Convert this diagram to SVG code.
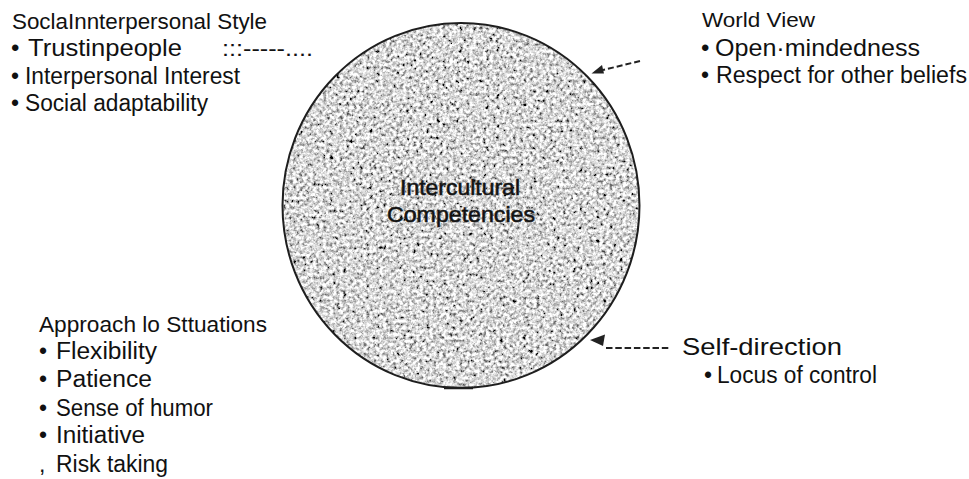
<svg xmlns="http://www.w3.org/2000/svg" width="969" height="479" viewBox="0 0 969 479">
  <style>
    .t { font-family: "Liberation Sans", Arial, sans-serif; fill: #111; }
    .dash { stroke: #222; stroke-width: 2; fill: none; }
    .head { fill: #222; stroke: none; }
  </style>
  <defs>
    <filter id="grain" x="0" y="0" width="100%" height="100%">
      <feTurbulence type="fractalNoise" baseFrequency="0.3" numOctaves="3" seed="7" result="n"/>
      <feColorMatrix in="n" type="matrix" values="0.33 0.33 0.33 0 0  0.33 0.33 0.33 0 0  0.33 0.33 0.33 0 0  0 0 0 0 1" result="g"/>
      <feComponentTransfer in="g" result="c">
        <feFuncR type="linear" slope="3.8" intercept="-1.2"/>
        <feFuncG type="linear" slope="3.8" intercept="-1.2"/>
        <feFuncB type="linear" slope="3.8" intercept="-1.2"/>
      </feComponentTransfer>
      <feComposite in="c" in2="SourceGraphic" operator="in"/>
    </filter>
  </defs>
  <rect width="969" height="479" fill="#ffffff"/>

  <g id="core">
    <ellipse cx="461" cy="205.5" rx="178.5" ry="182.5" fill="#aaaaaa" filter="url(#grain)"/>
    <ellipse cx="461" cy="205.5" rx="178.5" ry="182.5" fill="none" stroke="#1e1e1e" stroke-width="2"/>
    <line x1="444" y1="388" x2="473" y2="388" stroke="#1e1e1e" stroke-width="2.5"/>
    <text class="t" x="400" y="195" font-size="22" textLength="120" lengthAdjust="spacingAndGlyphs" fill="#1a1a1a" stroke="#1a1a1a" stroke-width="0.6">Intercultural</text>
    <text class="t" x="387" y="222" font-size="22" textLength="148" lengthAdjust="spacingAndGlyphs" fill="#1a1a1a" stroke="#1a1a1a" stroke-width="0.6">Competencies</text>
  </g>

  <g id="social-style">
    <text class="t" x="12" y="29" font-size="22" textLength="255" lengthAdjust="spacingAndGlyphs">SoclaInnterpersonal Style</text>
    <text class="t" y="56" font-size="24"><tspan x="11">•</tspan><tspan x="28" textLength="154" lengthAdjust="spacingAndGlyphs">Trustinpeople</tspan><tspan x="222" font-size="22" textLength="91" lengthAdjust="spacingAndGlyphs">:::-----....</tspan></text>
    <text class="t" y="84" font-size="23"><tspan x="11">•</tspan><tspan x="25" textLength="215" lengthAdjust="spacingAndGlyphs">Interpersonal Interest</tspan></text>
    <text class="t" y="111" font-size="23"><tspan x="11">•</tspan><tspan x="25" textLength="183" lengthAdjust="spacingAndGlyphs">Social adaptability</tspan></text>
  </g>

  <g id="world-view">
    <text class="t" x="702" y="27" font-size="21" textLength="113" lengthAdjust="spacingAndGlyphs">World View</text>
    <text class="t" y="56" font-size="24"><tspan x="701">•</tspan><tspan x="715" textLength="205" lengthAdjust="spacingAndGlyphs">Open·mindedness</tspan></text>
    <text class="t" y="83" font-size="23"><tspan x="701">•</tspan><tspan x="716" textLength="251" lengthAdjust="spacingAndGlyphs">Respect for other beliefs</tspan></text>
  </g>

  <g id="approach">
    <text class="t" x="39" y="332" font-size="22" textLength="228" lengthAdjust="spacingAndGlyphs">Approach lo Sttuations</text>
    <text class="t" y="359" font-size="23"><tspan x="39">•</tspan><tspan x="56" textLength="101" lengthAdjust="spacingAndGlyphs">Flexibility</tspan></text>
    <text class="t" y="387" font-size="23"><tspan x="39">•</tspan><tspan x="56" textLength="96" lengthAdjust="spacingAndGlyphs">Patience</tspan></text>
    <text class="t" y="416" font-size="23"><tspan x="39">•</tspan><tspan x="56" textLength="157" lengthAdjust="spacingAndGlyphs">Sense of humor</tspan></text>
    <text class="t" y="443" font-size="23"><tspan x="39">•</tspan><tspan x="56" textLength="89" lengthAdjust="spacingAndGlyphs">Initiative</tspan></text>
    <text class="t" y="472" font-size="23"><tspan x="39">,</tspan><tspan x="56" textLength="112" lengthAdjust="spacingAndGlyphs">Risk taking</tspan></text>
  </g>

  <g id="self-direction">
    <text class="t" x="682" y="355" font-size="24" textLength="160" lengthAdjust="spacingAndGlyphs">Self-direction</text>
    <text class="t" y="383" font-size="23"><tspan x="704">•</tspan><tspan x="717" textLength="160" lengthAdjust="spacingAndGlyphs">Locus of control</tspan></text>
  </g>

  <g id="connectors">
    <line class="dash" x1="640" y1="61" x2="603" y2="70" stroke-dasharray="6 3"/>
    <polygon class="head" points="591.5,73.5 602,65 604,73.5"/>
    <line class="dash" x1="606" y1="348" x2="671" y2="348" stroke-dasharray="6.5 2.8"/>
    <polygon class="head" points="590,340 605,334.5 603,346"/>
  </g>
</svg>
